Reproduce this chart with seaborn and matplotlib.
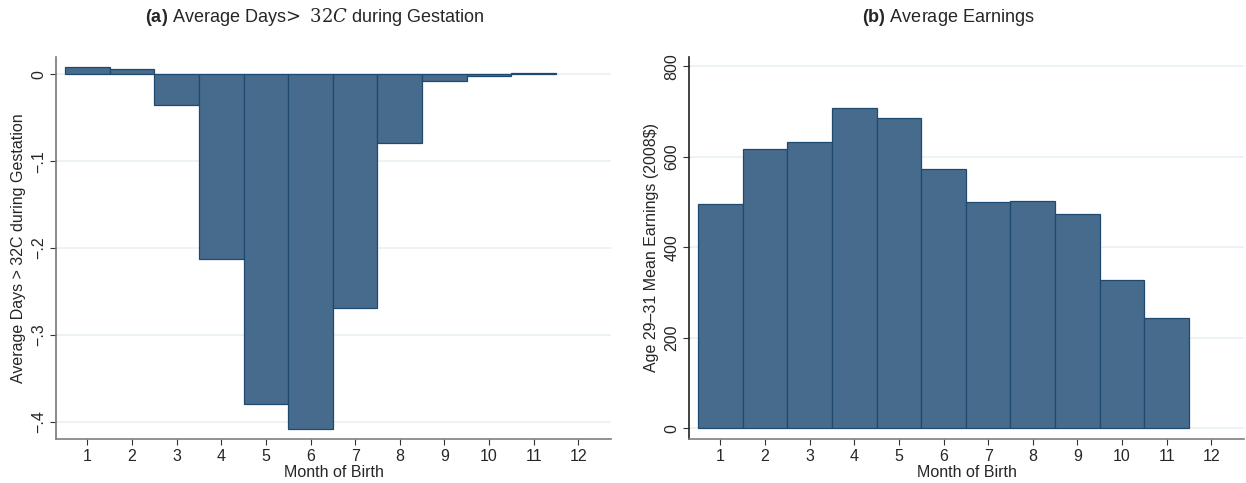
import pandas as pd
import matplotlib.pyplot as plt
import seaborn as sns

# values
months = [1, 2, 3, 4, 5, 6, 7, 8, 9, 10, 11]
month_ticks = [1, 2, 3, 4, 5, 6, 7, 8, 9, 10, 11, 12]
hot_days = [0.009, 0.0065, -0.035, -0.213, -0.380, -0.408, -0.269, -0.079, -0.008, -0.0015, 0.002]
earnings = [496, 617, 632, 709, 686, 574, 501, 503, 474, 327, 243]

hot_ticks = [0, -0.1, -0.2, -0.3, -0.4]
hot_labels = ['0', '\u2212.1', '\u2212.2', '\u2212.3', '\u2212.4']
earn_ticks = [0, 200, 400, 600, 800]
earn_labels = ['0', '200', '400', '600', '800']

bar_color = '#476b8c'
edge_color = '#1f4a70'
grid_color = '#e9f1f2'
spine_color = '#7f7f7f'

sns.set_style('white')
plt.rcParams['font.family'] = ['Liberation Sans', 'DejaVu Sans']
plt.rcParams['mathtext.fontset'] = 'custom'
plt.rcParams['mathtext.rm'] = 'DejaVu Serif'
plt.rcParams['mathtext.it'] = 'DejaVu Serif:italic'
plt.rcParams['mathtext.bf'] = 'Liberation Sans:bold'


def style_axes(ax, yticks, ylabels, left_color):
    ax.set_yticks(yticks)
    ax.set_yticklabels(ylabels, rotation=90, va='center', fontsize=11.5)
    ax.set_xticks(month_ticks)
    ax.set_xticklabels([str(m) for m in month_ticks], fontsize=11.5)
    ax.set_xlim(0.3, 12.73)
    for s in ['top', 'right']:
        ax.spines[s].set_visible(False)
    ax.spines['left'].set_color(left_color)
    ax.spines['bottom'].set_color(spine_color)
    for s in ['left', 'bottom']:
        ax.spines[s].set_linewidth(1.2)
    ax.tick_params(axis='both', direction='out', length=4, width=0.8,
                   color='#333333', left=True, bottom=True, pad=3)
    ax.yaxis.grid(True, color=grid_color, linewidth=1.2)
    ax.set_axisbelow(True)
    ax.set_xlabel('Month of Birth', fontsize=11.5, labelpad=1)


fig = plt.figure(figsize=(12.46, 4.83), dpi=100)
W, H = 1246, 483
ax1 = fig.add_axes([56 / W, 1 - 439 / H, (611 - 56) / W, (439 - 57) / H])
ax2 = fig.add_axes([689 / W, 1 - 439 / H, (1244 - 689) / W, (439 - 57) / H])

df1 = pd.DataFrame({'month': months, 'value': hot_days})
df2 = pd.DataFrame({'month': months, 'value': earnings})

sns.barplot(data=df1, x='month', y='value', native_scale=True, width=1,
            color=bar_color, saturation=1, edgecolor=edge_color,
            linewidth=0.9, errorbar=None, ax=ax1)
sns.barplot(data=df2, x='month', y='value', native_scale=True, width=1,
            color=bar_color, saturation=1, edgecolor=edge_color,
            linewidth=0.9, errorbar=None, ax=ax2)

style_axes(ax1, hot_ticks, hot_labels, '#777777')
ax1.set_ylim(-0.42, 0.02)
ax1.set_ylabel('Average Days > 32C during Gestation', fontsize=11.5, labelpad=4)

style_axes(ax2, earn_ticks, earn_labels, '#222222')
ax2.set_ylim(-23.7, 821)
ax2.set_ylabel('Age 29\u201331 Mean Earnings (2008\\$)', fontsize=11.5, labelpad=4)

fig.text(315 / W, 1 - 17 / H,
         r'$\mathbf{(a)}$ Average Days$\!>\ 32C$ during Gestation',
         ha='center', va='center', fontsize=13)
fig.text(948 / W, 1 - 17 / H, r'$\mathbf{(b)}$ Average Earnings',
         ha='center', va='center', fontsize=13)

fig.savefig('out.png', dpi=100)
